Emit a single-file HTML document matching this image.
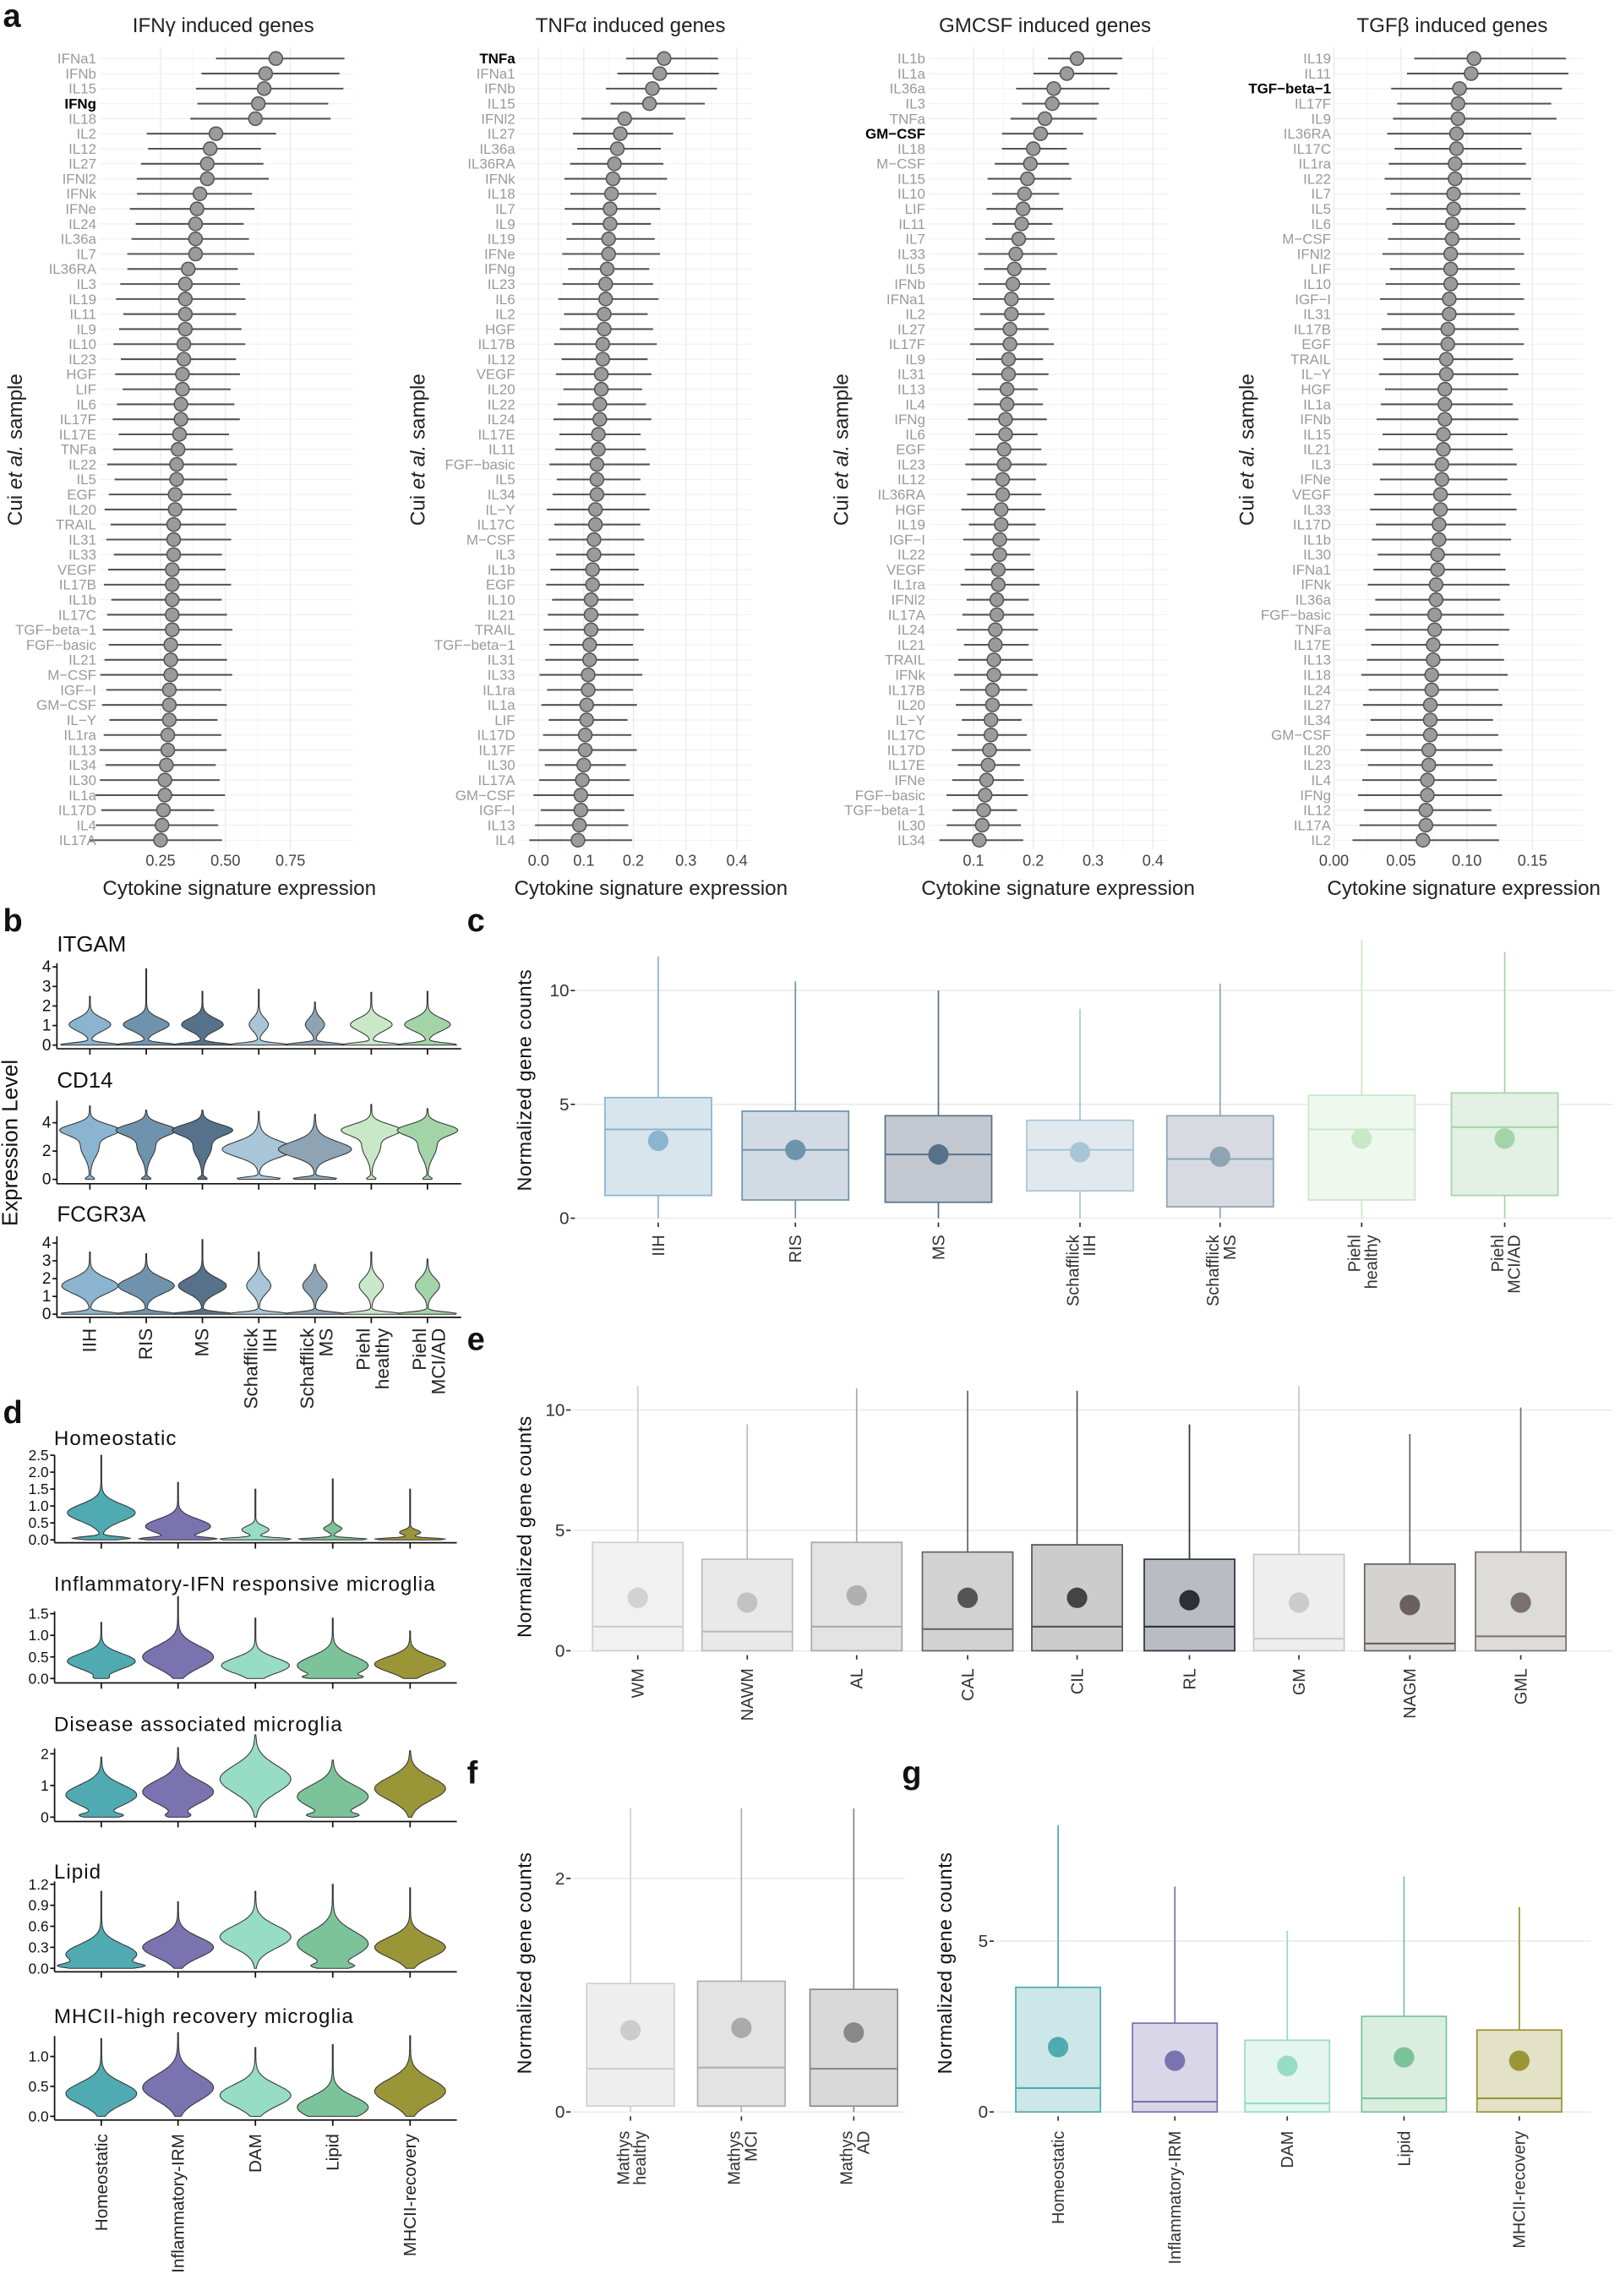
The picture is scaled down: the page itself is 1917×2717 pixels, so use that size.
<!DOCTYPE html>
<html><head><meta charset="utf-8">
<style>
html,body{margin:0;padding:0;background:#fff;}
svg{display:block;font-family:"Liberation Sans",sans-serif;}
</style></head>
<body>
<svg id="s" width="1917" height="2717" viewBox="0 0 1110 1573" xmlns="http://www.w3.org/2000/svg">
<rect width="1110" height="1573" fill="#fff"/>
<g font-weight="bold" font-size="22" fill="#111">
<text x="2" y="18">a</text><text x="2" y="638">b</text><text x="320" y="638">c</text>
<text x="2" y="975">d</text><text x="320" y="925">e</text><text x="320" y="1222">f</text><text x="618" y="1222">g</text>
</g>
<g font-size="14" fill="#222" text-anchor="middle">
<text x="153" y="22">IFNγ induced genes</text>
<text x="432" y="22">TNFα induced genes</text>
<text x="716" y="22">GMCSF induced genes</text>
<text x="995" y="22">TGFβ induced genes</text>
</g>
<g font-size="14" fill="#222" text-anchor="middle">
<text x="164" y="613">Cytokine signature expression</text>
<text x="446" y="613">Cytokine signature expression</text>
<text x="725" y="613">Cytokine signature expression</text>
<text x="1003" y="613">Cytokine signature expression</text>
</g>
<g id="dyn"></g>
</svg>
<script>
var out=[];
function T(x,y,t,a){out.push('<text x="'+x+'" y="'+y+'" '+(a||'')+'>'+t+'</text>');}
// ---------- panel a ----------
var panels=[
{L:68,R:242,t:[[0.25,110],[0.5,154.5],[0.75,199]],lab:"IFNa1 IFNb IL15 IFNg IL18 IL2 IL12 IL27 IFNl2 IFNk IFNe IL24 IL36a IL7 IL36RA IL3 IL19 IL11 IL9 IL10 IL23 HGF LIF IL6 IL17F IL17E TNFa IL22 IL5 EGF IL20 TRAIL IL31 IL33 VEGF IL17B IL1b IL17C TGF−beta−1 FGF−basic IL21 M−CSF IGF−I GM−CSF IL−Y IL1ra IL13 IL34 IL30 IL1a IL17D IL4 IL17A",bold:"IFNg",
 m:[189,182,181,177,175,148,144,142,142,137,135,134,134,134,129,127,127,127,127,126,126,125,125,124,124,123,122,121,121,120,120,119,119,119,118,118,118,118,118,117,117,117,116,116,116,115,115,114,113,113,112,111,110],lo:45,hi:38,top:52,yl:12},
{L:355,R:515,t:[[0,369],[0.1,400],[0.2,434],[0.3,470],[0.4,505]],lab:"TNFa IFNa1 IFNb IL15 IFNl2 IL27 IL36a IL36RA IFNk IL18 IL7 IL9 IL19 IFNe IFNg IL23 IL6 IL2 HGF IL17B IL12 VEGF IL20 IL22 IL24 IL17E IL11 FGF−basic IL5 IL34 IL−Y IL17C M−CSF IL3 IL1b EGF IL10 IL21 TRAIL TGF−beta−1 IL31 IL33 IL1ra IL1a LIF IL17D IL17F IL30 IL17A GM−CSF IGF−I IL13 IL4",bold:"TNFa",
 m:[455,452,447,445,428,425,423,421,420,419,418,418,417,417,416,415,415,414,414,413,413,412,412,411,411,410,410,409,409,409,408,408,407,407,406,406,405,405,405,404,404,403,403,402,402,401,401,400,399,398,398,397,396],lo:30,hi:33,top:42,yl:288},
{L:636,R:800,t:[[0.1,667],[0.2,708],[0.3,749],[0.4,790]],lab:"IL1b IL1a IL36a IL3 TNFa GM−CSF IL18 M−CSF IL15 IL10 LIF IL11 IL7 IL33 IL5 IFNb IFNa1 IL2 IL27 IL17F IL9 IL31 IL13 IL4 IFNg IL6 EGF IL23 IL12 IL36RA HGF IL19 IGF−I IL22 VEGF IL1ra IFNl2 IL17A IL24 IL21 TRAIL IFNk IL17B IL20 IL−Y IL17C IL17D IL17E IFNe FGF−basic TGF−beta−1 IL30 IL34",bold:"GM−CSF",
 m:[738,731,722,721,716,713,708,706,704,702,701,700,698,696,695,694,693,693,692,692,691,691,690,690,689,689,688,688,687,687,686,686,685,685,684,684,683,683,682,682,681,681,680,680,679,679,678,677,676,675,674,673,671],lo:24,hi:26,top:36,yl:578},
{L:914,R:1085,t:[[0.00,914],[0.05,960],[0.10,1005],[0.15,1050]],lab:"IL19 IL11 TGF−beta−1 IL17F IL9 IL36RA IL17C IL1ra IL22 IL7 IL5 IL6 M−CSF IFNl2 LIF IL10 IGF−I IL31 IL17B EGF TRAIL IL−Y HGF IL1a IFNb IL15 IL21 IL3 IFNe VEGF IL33 IL17D IL1b IL30 IFNa1 IFNk IL36a FGF−basic TNFa IL17E IL13 IL18 IL24 IL27 IL34 GM−CSF IL20 IL23 IL4 IFNg IL12 IL17A IL2",bold:"TGF−beta−1",
 m:[1010,1008,1000,999,999,998,998,997,997,996,996,995,995,994,994,994,993,993,992,992,991,991,990,990,990,989,989,988,988,987,987,986,986,985,985,984,984,983,983,982,982,981,981,980,980,980,979,979,978,978,977,977,975],lo:45,hi:48,top:68,yl:856}
];
panels.forEach(function(p){
 var labs=p.lab.split(" ");var y0=40,dy=10.3,n=labs.length;
 for(var i=0;i<p.t.length;i++){var x=p.t[i][1];out.push('<line x1="'+x+'" x2="'+x+'" y1="32" y2="582" stroke="#ebebeb" stroke-width="0.8"/>');
   if(i<p.t.length-1){var xm=(x+p.t[i+1][1])/2;out.push('<line x1="'+xm+'" x2="'+xm+'" y1="32" y2="582" stroke="#f4f4f4" stroke-width="0.5"/>');}
   var lbl=(p.t[i][0]).toFixed(p.L>900?2:1);
   if(p.L<100) lbl=["0.25","0.50","0.75"][i];
   T(x,593,lbl,'font-size="10.5" fill="#444" text-anchor="middle"');}
 for(var k=0;k<n;k++){var y=y0+k*dy;var m=p.m[k];
  out.push('<line x1="'+p.L+'" x2="'+p.R+'" y1="'+y+'" y2="'+y+'" stroke="#efefef" stroke-width="0.6"/>');
  var v=((k*37)%11)/11-0.5;var lo=m-p.lo-v*8,hi=m+(k<5?p.top:p.hi)+v*10;
  out.push('<line x1="'+lo.toFixed(1)+'" x2="'+hi.toFixed(1)+'" y1="'+y+'" y2="'+y+'" stroke="#555" stroke-width="1.2"/>');
  out.push('<circle cx="'+m+'" cy="'+y+'" r="4.6" fill="#9b9b9b" stroke="#555" stroke-width="0.9"/>');
  var b=labs[k]==p.bold;
  T(p.L-2,y+3.4,labs[k],'font-size="9.8" text-anchor="end" fill="'+(b?'#000':'#9a9a9a')+'"'+(b?' font-weight="bold"':''));
 }
 out.push('<text transform="translate('+(p.yl+3)+',308) rotate(-90)" font-size="14" fill="#222" text-anchor="middle">Cui <tspan font-style="italic">et al.</tspan> sample</text>');
});
// ---------- violins ----------
function vio(cx,y0,ppu,comps,maxv,col){
 var N=60,R=[],Lf=[];
 for(var i=0;i<=N;i++){var v=maxv*i/N;var hw=0.3;
  comps.forEach(function(c){hw+=c[2]*Math.exp(-Math.pow((v-c[0])/c[1],2));});
  if(i==N)hw=0.3;
  var y=(y0-v*ppu).toFixed(1);R.push((cx+hw).toFixed(1)+','+y);Lf.unshift((cx-hw).toFixed(1)+','+y);}
 out.push('<polygon points="'+R.concat(Lf).join(' ')+'" fill="'+col+'" stroke="#333" stroke-width="0.6" stroke-linejoin="round"/>');
}
function axisY(x,ytop,ybot,ticks,fs){
 out.push('<line x1="'+x+'" x2="'+x+'" y1="'+ytop+'" y2="'+ybot+'" stroke="#111" stroke-width="1"/>');
 ticks.forEach(function(t){out.push('<line x1="'+(x-3)+'" x2="'+x+'" y1="'+t[1]+'" y2="'+t[1]+'" stroke="#111"/>');T(x-4,t[1]+3.5,t[0],'font-size="'+fs+'" text-anchor="end" fill="#111"');});
}
// panel b
var bx=[61.6,100.2,138.7,177.3,215.8,254.4,292.9];
var bc=["#8ab4cf","#6f93ad","#56728a","#a9c6d8","#8ea4b4","#c9e8c8","#a3d4a8"];
var bmod=[
 {y0:716,top:660,ax:718.5,ppu:13.4,ticks:[4,3,2,1,0],title:"ITGAM",ty:652},
 {y0:808,top:754,ax:811,ppu:9.7,ticks:[4,2,0],title:"CD14",ty:745},
 {y0:900.4,top:847,ax:902.5,ppu:12.2,ticks:[4,3,2,1,0],title:"FCGR3A",ty:837}];
var bs=[1,1.1,1,0.45,0.45,1,1.1];
var HW=20;
bmod.forEach(function(m,mi){
 T(39,m.ty,m.title,'font-size="15" fill="#111"');
 axisY(39,m.top,m.ax,m.ticks.map(function(t){return [t,m.y0-t*m.ppu];}),11);
 out.push('<line x1="39" x2="316" y1="'+m.ax+'" y2="'+m.ax+'" stroke="#111"/>');
 bx.forEach(function(cx,i){
  out.push('<line x1="'+cx+'" x2="'+cx+'" y1="'+m.ax+'" y2="'+(m.ax+4)+'" stroke="#111"/>');
  var s=bs[i];
  if(mi==0) vio(cx,m.y0,m.ppu,[[0.02,0.13,HW],[1.05,0.45,14*s]],[2.5,3.9,2.75,2.85,2.2,2.7,2.75][i],bc[i]);
  if(mi==1) vio(cx,m.y0,m.ppu,[[0.05,0.15,i>2&&i<5?15:3],[i==3||i==4?2.1:3.5,i==3||i==4?0.7:0.55,19],[2.3,1,6]],[5.2,4.9,4.9,4.8,4.6,5.3,5][i],bc[i]);
  if(mi==2) vio(cx,m.y0,m.ppu,[[0.03,0.14,HW],[1.6,0.6,(i>2?8:19)*(i==2?0.85:1)]],[3.5,3.4,4.2,3.5,2.8,3.5,3.1][i],bc[i]);
 });
});
out.push('<text transform="translate(12,783) rotate(-90)" font-size="15" fill="#111" text-anchor="middle">Expression Level</text>');
var blab=[["IIH"],["RIS"],["MS"],["Schafflick","IIH"],["Schafflick","MS"],["Piehl","healthy"],["Piehl","MCI/AD"]];
function rotLabels(xs,labs,y,fs,fill){
 xs.forEach(function(x,i){var l=labs[i];
  if(l.length==1) out.push('<text transform="translate('+(x+4)+','+y+') rotate(-90)" font-size="'+fs+'" fill="'+fill+'" text-anchor="end">'+l[0]+'</text>');
  else{out.push('<text transform="translate('+(x-1)+','+y+') rotate(-90)" font-size="'+fs+'" fill="'+fill+'" text-anchor="end">'+l[0]+'</text>');
   out.push('<text transform="translate('+(x+fs-1)+','+y+') rotate(-90)" font-size="'+fs+'" fill="'+fill+'" text-anchor="end">'+l[1]+'</text>');}
 });
}
rotLabels(bx,blab,910,13,"#222");
// panel d
var dx=[69.4,122,175,228,281];
var dc=["#4fabb1","#7b72b0","#97dcc4","#7cc39a","#9a9537"];
var dmod=[
 {title:"Homeostatic",ty:990,y0:1055,ax:1057,top:997,ppu:(1055-997)/2.5,ticks:["2.5","2.0","1.5","1.0","0.5","0.0"],tv:[2.5,2,1.5,1,0.5,0],
  sh:[[[0.05,0.06,20],[0.8,0.35,23]],[[0.03,0.06,22],[0.4,0.3,22]],[[0.02,0.06,24],[0.3,0.15,9]],[[0.02,0.05,24],[0.33,0.12,6]],[[0.02,0.05,24],[0.22,0.1,7]]],mx:[2.5,1.7,1.5,1.8,1.5]},
 {title:"Inflammatory-IFN responsive microglia",ty:1090,y0:1150,ax:1153,top:1104,ppu:(1150-1105.6)/1.5,ticks:["1.5","1.0","0.5","0.0"],tv:[1.5,1,0.5,0],
  sh:[[[0.02,0.05,3],[0.4,0.25,23]],[[0.5,0.35,24]],[[0.3,0.25,23]],[[0.03,0.05,10],[0.3,0.3,24]],[[0.33,0.25,24]]],mx:[1.3,1.9,1.4,1.4,1.1]},
 {title:"Disease associated microglia",ty:1186,y0:1245,ax:1248,top:1198,ppu:(1245-1201.6)/2,ticks:["2","1","0"],tv:[2,1,0],
  sh:[[[0.05,0.1,12],[0.7,0.45,24]],[[0.05,0.1,6],[0.8,0.5,24]],[[1.2,0.6,24]],[[0.05,0.1,12],[0.65,0.5,24]],[[0.9,0.5,24]]],mx:[1.9,2.2,2.6,1.8,2.1]},
 {title:"Lipid",ty:1287,y0:1348.6,ax:1351,top:1289,ppu:(1348.6-1291)/1.2,ticks:["1.2","0.9","0.6","0.3","0.0"],tv:[1.2,0.9,0.6,0.3,0],
  sh:[[[0.03,0.05,18],[0.2,0.2,24]],[[0.3,0.2,24]],[[0.45,0.22,24]],[[0.03,0.05,10],[0.35,0.25,24]],[[0.3,0.2,24]]],mx:[1.1,0.95,1.1,1.2,1.15]},
 {title:"MHCII-high recovery microglia",ty:1386,y0:1450,ax:1452.5,top:1395,ppu:(1450-1409),ticks:["1.0","0.5","0.0"],tv:[1,0.5,0],
  sh:[[[0.38,0.25,24]],[[0.48,0.3,24]],[[0.35,0.25,24]],[[0.15,0.25,24]],[[0.42,0.28,24]]],mx:[1.3,1.4,1.15,1.2,1.35]}];
dmod.forEach(function(m){
 T(37,m.ty,m.title,'font-size="14" fill="#111" letter-spacing="0.6"');
 axisY(37.4,m.top,m.ax,m.tv.map(function(t,i){return [m.ticks[i],m.y0-t*m.ppu];}),10);
 out.push('<line x1="37.4" x2="313" y1="'+m.ax+'" y2="'+m.ax+'" stroke="#111"/>');
 dx.forEach(function(cx,i){
  out.push('<line x1="'+cx+'" x2="'+cx+'" y1="'+m.ax+'" y2="'+(m.ax+4)+'" stroke="#111"/>');
  vio(cx,m.y0,m.ppu,m.sh[i],m.mx[i],dc[i]);
 });
});
rotLabels(dx,[["Homeostatic"],["Inflammatory-IRM"],["DAM"],["Lipid"],["MHCII-recovery"]],1462,12,"#222");
// ---------- box plots ----------
function boxPanel(o){
 o.grid.forEach(function(g){var y=o.y0-g*o.ppu;out.push('<line x1="'+o.L+'" x2="'+o.R+'" y1="'+y+'" y2="'+y+'" stroke="#ececec" stroke-width="1"/>');
  T(o.L-5,y+4,g,'font-size="12" fill="#333" text-anchor="end"');out.push('<line x1="'+(o.L-4)+'" x2="'+(o.L-1)+'" y1="'+y+'" y2="'+y+'" stroke="#333"/>');});
 o.b.forEach(function(b,i){var cx=o.xs[i],w=o.w/2;
  var yq1=o.y0-b[0]*o.ppu,yq3=o.y0-b[1]*o.ppu,ym=o.y0-b[2]*o.ppu,ymn=o.y0-b[3]*o.ppu,yw=o.y0-b[4]*o.ppu;
  out.push('<line x1="'+cx+'" x2="'+cx+'" y1="'+yw+'" y2="'+o.y0+'" stroke="'+b[6]+'" stroke-width="1"/>');
  out.push('<rect x="'+(cx-w)+'" y="'+yq3+'" width="'+o.w+'" height="'+(yq1-yq3)+'" fill="'+b[5]+'" stroke="'+b[6]+'" stroke-width="1"/>');
  out.push('<line x1="'+(cx-w)+'" x2="'+(cx+w)+'" y1="'+ym+'" y2="'+ym+'" stroke="'+b[6]+'" stroke-width="1.2"/>');
  out.push('<circle cx="'+cx+'" cy="'+ymn+'" r="'+o.r+'" fill="'+b[7]+'"/>');
  out.push('<line x1="'+cx+'" x2="'+cx+'" y1="'+(o.y0+3)+'" y2="'+(o.y0+6)+'" stroke="#333"/>');
 });
 out.push('<text transform="translate('+o.tx+','+o.ty+') rotate(-90)" font-size="13.5" fill="#111" text-anchor="middle" letter-spacing="0.3">Normalized gene counts</text>');
 rotLabels(o.xs,o.labs,o.ly,11.5,"#333");
}
boxPanel({L:395,R:1105,y0:834.6,ppu:15.6,grid:[0,5,10],xs:[451,545,643,740,836,933,1031],w:73,r:7,tx:364,ty:740,ly:846,labs:blab,
 b:[[1,5.3,3.9,3.4,11.5,"#d9e5ed","#8ab4cf","#8ab4cf"],[0.8,4.7,3.0,3.0,10.4,"#d2dbe3","#6f93ad","#6f93ad"],[0.7,4.5,2.8,2.8,10,"#c3c8d0","#56728a","#56728a"],
    [1.2,4.3,3.0,2.9,9.2,"#e1e9ef","#a9c6d8","#a9c6d8"],[0.5,4.5,2.6,2.7,10.3,"#d7dbe1","#8ea4b4","#8ea4b4"],[0.8,5.4,3.9,3.5,12.2,"#eef8ee","#c9e8c8","#c9e8c8"],[1,5.5,4.0,3.5,11.7,"#e2f1e3","#a3d4a8","#a3d4a8"]]});
boxPanel({L:392,R:1105,y0:1131,ppu:16.5,grid:[0,5,10],xs:[437,512,587,663,738,815,890,966,1042],w:62,r:7,tx:364,ty:1046,ly:1143,
 labs:[["WM"],["NAWM"],["AL"],["CAL"],["CIL"],["RL"],["GM"],["NAGM"],["GML"]],
 b:[[0,4.5,1.0,2.2,11,"#f1f1f1","#cfcfcf","#d2d2d2"],[0,3.8,0.8,2.0,9.4,"#e9e9e9","#bbbbbb","#c2c2c2"],[0,4.5,1.0,2.3,10.9,"#e3e3e3","#aaaaaa","#b0b0b0"],
    [0,4.1,0.9,2.2,10.8,"#d2d2d2","#666","#555"],[0,4.4,1.0,2.2,10.8,"#cccccc","#555","#444"],[0,3.8,1.0,2.1,9.4,"#b9bcc3","#2e3440","#2a2f38"],
    [0,4.0,0.5,2.0,11,"#eeeeee","#c8c8c8","#cccccc"],[0,3.6,0.3,1.9,9,"#d5d2d2","#6a6262","#6a6060"],[0,4.1,0.6,2.0,10.1,"#dedbdb","#7a7070","#7a7070"]]});
boxPanel({L:392,R:620,y0:1447,ppu:80,grid:[0,2],xs:[432,508,585],w:60,r:7,tx:364,ty:1345,ly:1460,
 labs:[["Mathys","healthy"],["Mathys","MCI"],["Mathys","AD"]],
 b:[[0.05,1.1,0.37,0.7,2.6,"#eeeeee","#cfcfcf","#cccccc"],[0.05,1.12,0.38,0.72,2.6,"#e3e3e3","#b0b0b0","#aaaaaa"],[0.05,1.05,0.37,0.68,2.6,"#d9d9d9","#8a8a8a","#888888"]]});
boxPanel({L:682,R:1090,y0:1447,ppu:23.4,grid:[0,5],xs:[725,805,882,962,1041],w:58,r:7,tx:652,ty:1345,ly:1460,
 labs:[["Homeostatic"],["Inflammatory-IRM"],["DAM"],["Lipid"],["MHCII-recovery"]],
 b:[[0,3.65,0.7,1.9,8.4,"#cde6e7","#4fabb1","#4fabb1"],[0,2.6,0.3,1.5,6.6,"#d9d6e8","#7b72b0","#7b72b0"],[0,2.1,0.25,1.35,5.3,"#e4f6ef","#97dcc4","#97dcc4"],
    [0,2.8,0.4,1.6,6.9,"#d9eedf","#7cc39a","#7cc39a"],[0,2.4,0.4,1.5,6.0,"#e3e1c6","#9a9537","#9a9537"]]});
document.getElementById("dyn").innerHTML=out.join("");
</script>
</body></html>
